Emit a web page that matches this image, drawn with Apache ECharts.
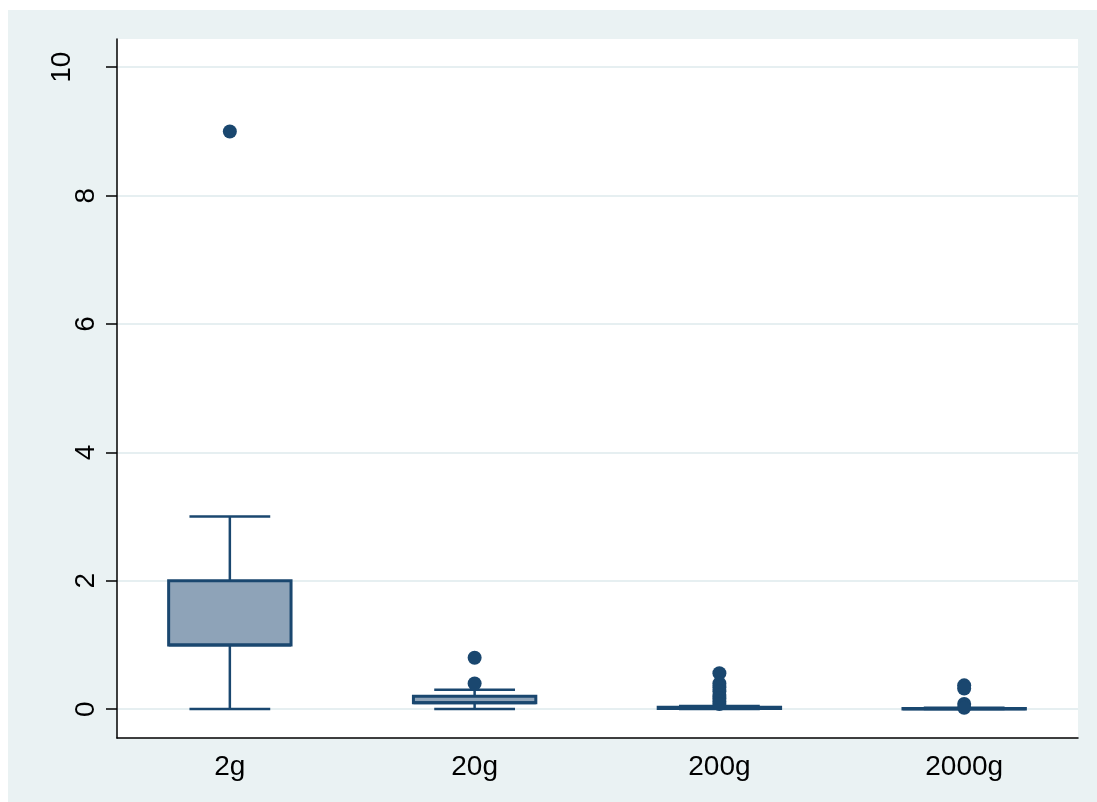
<!DOCTYPE html>
<html>
<head>
<meta charset="utf-8">
<script src="https://cdn.jsdelivr.net/npm/echarts@6/dist/echarts.min.js"></script>
<style>
  html, body { margin: 0; padding: 0; background: #fff; }
  #plot { position: absolute; left: 8px; top: 10px; width: 1089px; height: 792px; }
</style>
</head>
<body>
<div id="plot"></div>
<script>
// groups on the x axis
const groups = ['2g', '20g', '200g', '2000g'];
const groupPos = [1, 2, 3, 4];
// box stats: [low whisker, q1, median, q3, high whisker]
const box2g = [0, 1, 1, 2, 3];
const box20g = [0, 0.1, 0.1, 0.2, 0.3];
const box200g = [0, 0.01, 0.02, 0.03, 0.05];
const box2000g = [0, 0, 0.005, 0.01, 0.02];
// outside values
const out2g = [9];
const out20g = [0.8, 0.4];
const out200g = [0.56, 0.4, 0.34, 0.28, 0.22, 0.17, 0.12, 0.08];
const out2000g = [0.37, 0.32, 0.08, 0.02];
const yTicks = [0, 2, 4, 6, 8, 10];

const navy = '#1a476f';
const boxes = [box2g, box20g, box200g, box2000g];
const outs = [out2g, out20g, out200g, out2000g];

let boxData = boxes.map((b, i) => [groupPos[i]].concat(b));
let outData = [];
outs.forEach((o, i) => o.forEach(v => outData.push([groupPos[i], v])));

function renderBox(params, api) {
  let x = api.value(0);
  let lo = api.coord([x, api.value(1)]);
  let q1 = api.coord([x, api.value(2)]);
  let med = api.coord([x, api.value(3)]);
  let q3 = api.coord([x, api.value(4)]);
  let hi = api.coord([x, api.value(5)]);
  let bw = api.size([0.5, 0])[0];
  let cw = api.size([0.33, 0])[0];
  let cx = lo[0];
  let line = (x1, y1, x2, y2, w) => ({
    type: 'line',
    shape: {x1: x1, y1: y1, x2: x2, y2: y2},
    style: {stroke: navy, lineWidth: w}
  });
  return {
    type: 'group',
    children: [
      line(cx, lo[1], cx, q1[1], 2.5),
      line(cx, q3[1], cx, hi[1], 2.5),
      line(cx - cw / 2, lo[1], cx + cw / 2, lo[1], 2.5),
      line(cx - cw / 2, hi[1], cx + cw / 2, hi[1], 2.5),
      {
        type: 'rect',
        shape: {x: cx - bw / 2, y: q3[1], width: bw, height: q1[1] - q3[1]},
        style: {fill: '#8ea3b8', stroke: navy, lineWidth: 3}
      },
      line(cx - bw / 2, med[1], cx + bw / 2, med[1], 3)
    ]
  };
}

let chart = echarts.init(document.getElementById('plot'));
let option = {
  backgroundColor: '#eaf2f3',
  animation: false,
  textStyle: {fontFamily: 'Liberation Sans, Arial, sans-serif'},
  grid: {
    left: 109, right: 19, top: 29, bottom: 64,
    show: true, backgroundColor: '#fff', borderWidth: 0
  },
  xAxis: {
    type: 'value',
    min: 0.539, max: 4.465,
    axisLine: {show: true, onZero: false, lineStyle: {color: '#000', width: 1.5}},
    axisTick: {show: false},
    splitLine: {show: false},
    axisLabel: {
      customValues: groupPos,
      color: '#000', fontSize: 28, margin: 15,
      formatter: v => groups[Math.round(v) - 1]
    }
  },
  yAxis: {
    type: 'value',
    min: -0.45, max: 10.44,
    axisLine: {show: true, onZero: false, lineStyle: {color: '#000', width: 1.5}},
    axisTick: {show: true, customValues: yTicks, length: 11, lineStyle: {color: '#000', width: 1.5}},
    splitLine: {show: true, lineStyle: {color: '#e6eff1', width: 2}},
    axisLabel: {
      customValues: yTicks,
      rotate: 90, color: '#000', fontSize: 28, margin: 17,
      formatter: v => v === 10 ? '{w|' + v + '}' : '{n|' + v + '}',
      rich: {
        n: {fontSize: 28, color: '#000'},
        w: {fontSize: 28, color: '#000', padding: [0, 0, 24, 0]}
      }
    }
  },
  series: [
    {
      type: 'custom',
      renderItem: renderBox,
      data: boxData,
      encode: {x: 0, y: [1, 2, 3, 4, 5]},
      z: 2
    },
    {
      type: 'scatter',
      data: outData,
      symbol: 'circle',
      symbolSize: 14,
      itemStyle: {color: navy, opacity: 1},
      z: 3
    }
  ]
};
chart.setOption(option);
</script>
</body>
</html>
